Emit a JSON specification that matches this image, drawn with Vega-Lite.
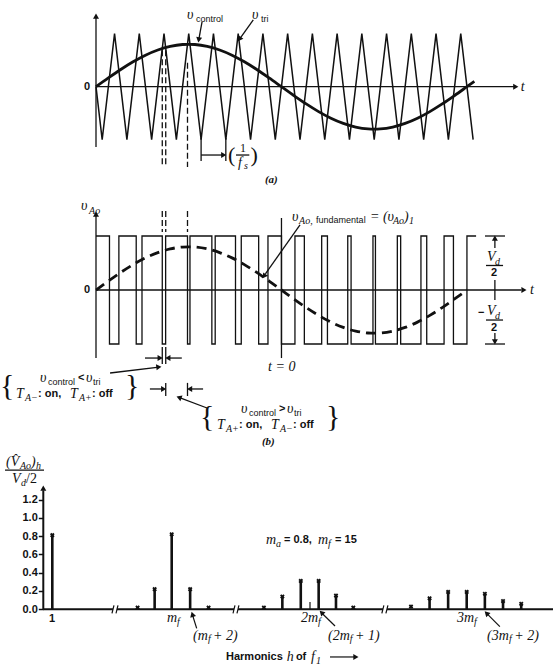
{
  "$schema": "https://vega.github.io/schema/vega-lite/v6.json",
  "background": "white",
  "padding": 0,
  "spacing": 0,
  "config": {"view": {"stroke": null}},
  "datasets": {
    "tri": [
      {"x": 0, "y": 0}, {"x": 0.25, "y": -1}, {"x": 0.75, "y": 1}, {"x": 1.25, "y": -1}, {"x": 1.75, "y": 1},
      {"x": 2.25, "y": -1}, {"x": 2.75, "y": 1}, {"x": 3.25, "y": -1}, {"x": 3.75, "y": 1}, {"x": 4.25, "y": -1},
      {"x": 4.75, "y": 1}, {"x": 5.25, "y": -1}, {"x": 5.75, "y": 1}, {"x": 6.25, "y": -1}, {"x": 6.75, "y": 1},
      {"x": 7.25, "y": -1}, {"x": 7.75, "y": 1}, {"x": 8.25, "y": -1}, {"x": 8.75, "y": 1}, {"x": 9.25, "y": -1},
      {"x": 9.75, "y": 1}, {"x": 10.25, "y": -1}, {"x": 10.75, "y": 1}, {"x": 11.25, "y": -1}, {"x": 11.75, "y": 1},
      {"x": 12.25, "y": -1}, {"x": 12.75, "y": 1}, {"x": 13.25, "y": -1}, {"x": 13.75, "y": 1}, {"x": 14.25, "y": -1},
      {"x": 14.75, "y": 1}, {"x": 15.25, "y": -1}
    ],
    "ctrl": [
      {"x": 0, "y": 0}, {"x": 0.5, "y": 0.166}, {"x": 1, "y": 0.325}, {"x": 1.5, "y": 0.47}, {"x": 2, "y": 0.595},
      {"x": 2.5, "y": 0.693}, {"x": 3, "y": 0.761}, {"x": 3.5, "y": 0.796}, {"x": 3.75, "y": 0.8}, {"x": 4, "y": 0.796},
      {"x": 4.5, "y": 0.761}, {"x": 5, "y": 0.693}, {"x": 5.5, "y": 0.595}, {"x": 6, "y": 0.47}, {"x": 6.5, "y": 0.325},
      {"x": 7, "y": 0.166}, {"x": 7.5, "y": 0}, {"x": 8, "y": -0.166}, {"x": 8.5, "y": -0.325}, {"x": 9, "y": -0.47},
      {"x": 9.5, "y": -0.595}, {"x": 10, "y": -0.693}, {"x": 10.5, "y": -0.761}, {"x": 11, "y": -0.796}, {"x": 11.25, "y": -0.8},
      {"x": 11.5, "y": -0.796}, {"x": 12, "y": -0.761}, {"x": 12.5, "y": -0.693}, {"x": 13, "y": -0.595}, {"x": 13.5, "y": -0.47},
      {"x": 14, "y": -0.325}, {"x": 14.5, "y": -0.166}, {"x": 15, "y": 0}, {"x": 15.3, "y": 0.1}
    ],
    "pwm": [
      {"x": 0, "y": 1}, {"x": 0.545, "y": -1}, {"x": 0.925, "y": 1}, {"x": 1.626, "y": -1}, {"x": 1.86, "y": 1},
      {"x": 2.68, "y": -1}, {"x": 2.816, "y": 1}, {"x": 3.7, "y": -1}, {"x": 3.8, "y": 1}, {"x": 4.685, "y": -1},
      {"x": 4.82, "y": 1}, {"x": 5.641, "y": -1}, {"x": 5.874, "y": 1}, {"x": 6.578, "y": -1}, {"x": 6.954, "y": 1},
      {"x": 7.5, "y": -1}, {"x": 8.045, "y": 1}, {"x": 8.425, "y": -1}, {"x": 9.126, "y": 1}, {"x": 9.359, "y": -1},
      {"x": 10.18, "y": 1}, {"x": 10.315, "y": -1}, {"x": 11.2, "y": 1}, {"x": 11.3, "y": -1}, {"x": 12.185, "y": 1},
      {"x": 12.32, "y": -1}, {"x": 13.14, "y": 1}, {"x": 13.374, "y": -1}, {"x": 14.075, "y": 1}, {"x": 14.454, "y": -1},
      {"x": 15.0, "y": 1}, {"x": 15.37, "y": 1}
    ],
    "harm": [
      {"x": 1, "y": 0.81, "k": "stem"}, {"x": 11, "y": 0.02, "k": "dot"}, {"x": 13, "y": 0.22, "k": "stem"},
      {"x": 15, "y": 0.82, "k": "stem"}, {"x": 17, "y": 0.22, "k": "stem"}, {"x": 19, "y": 0.02, "k": "dot"},
      {"x": 25, "y": 0.02, "k": "dot"}, {"x": 27, "y": 0.14, "k": "stem"}, {"x": 29, "y": 0.31, "k": "stem"},
      {"x": 30, "y": 0.08, "k": "tick"}, {"x": 31, "y": 0.31, "k": "stem"}, {"x": 33, "y": 0.15, "k": "stem"},
      {"x": 35, "y": 0.02, "k": "dot"}, {"x": 39, "y": 0.03, "k": "dot"}, {"x": 41, "y": 0.12, "k": "stem"},
      {"x": 43, "y": 0.19, "k": "stem"}, {"x": 45, "y": 0.19, "k": "stem"}, {"x": 47, "y": 0.17, "k": "stem"},
      {"x": 49, "y": 0.09, "k": "stem"}, {"x": 51, "y": 0.06, "k": "stem"}
    ],
    "seg": [
      {"p": "A", "k": "line", "x": 0, "y": 0, "x2": 16.9, "y2": 0},
      {"p": "A", "k": "line", "x": 0, "y": -1.138, "x2": 0, "y2": 1.33},
      {"p": "A", "k": "line", "x": 4.29, "y": 1.226, "x2": 4.16, "y2": 0.9},
      {"p": "A", "k": "line", "x": 6.36, "y": 1.26, "x2": 5.84, "y2": 0.92},
      {"p": "A", "k": "line", "x": 4.25, "y": -0.97, "x2": 4.25, "y2": -1.4},
      {"p": "A", "k": "line", "x": 5.25, "y": -0.97, "x2": 5.25, "y2": -1.4},
      {"p": "A", "k": "line", "x": 4.25, "y": -1.289, "x2": 5.15, "y2": -1.289},
      {"p": "A", "k": "line", "x": 5.66, "y": -1.289, "x2": 6.2, "y2": -1.289},
      {"p": "A", "k": "dash", "x": 2.68, "y": 0.69, "x2": 2.68, "y2": -1.515},
      {"p": "A", "k": "dash", "x": 2.82, "y": 0.69, "x2": 2.82, "y2": -1.515},
      {"p": "A", "k": "dash", "x": 3.7, "y": 0.45, "x2": 3.7, "y2": -1.515},
      {"p": "B", "k": "line", "x": 0, "y": 0, "x2": 17.2, "y2": 0},
      {"p": "B", "k": "line", "x": 0, "y": -1.26, "x2": 0, "y2": 1.4},
      {"p": "B", "k": "line", "x": 7.5, "y": 1.333, "x2": 7.5, "y2": -1.26},
      {"p": "B", "k": "line", "x": 15.73, "y": 1.0, "x2": 16.54, "y2": 1.0},
      {"p": "B", "k": "line", "x": 15.73, "y": -1.0, "x2": 16.54, "y2": -1.0},
      {"p": "B", "k": "line", "x": 16.13, "y": 0.95, "x2": 16.13, "y2": 0.778},
      {"p": "B", "k": "line", "x": 16.13, "y": 0.185, "x2": 16.13, "y2": -0.185},
      {"p": "B", "k": "line", "x": 16.13, "y": -0.796, "x2": 16.13, "y2": -0.95},
      {"p": "B", "k": "line", "x": 15.77, "y": 0.454, "x2": 16.46, "y2": 0.454},
      {"p": "B", "k": "line", "x": 15.77, "y": -0.556, "x2": 16.46, "y2": -0.556},
      {"p": "B", "k": "line", "x": 8.25, "y": 1.204, "x2": 6.85, "y2": 0.3},
      {"p": "B", "k": "line", "x": 2.68, "y": -1.056, "x2": 2.68, "y2": -1.37},
      {"p": "B", "k": "line", "x": 2.82, "y": -1.056, "x2": 2.82, "y2": -1.37},
      {"p": "B", "k": "line", "x": 2.82, "y": -1.72, "x2": 2.82, "y2": -1.963},
      {"p": "B", "k": "line", "x": 3.7, "y": -1.72, "x2": 3.7, "y2": -1.963},
      {"p": "B", "k": "line", "x": 1.98, "y": -1.26, "x2": 2.6, "y2": -1.26},
      {"p": "B", "k": "line", "x": 3.47, "y": -1.26, "x2": 2.9, "y2": -1.26},
      {"p": "B", "k": "line", "x": 2.18, "y": -1.833, "x2": 2.74, "y2": -1.833},
      {"p": "B", "k": "line", "x": 4.33, "y": -1.833, "x2": 3.78, "y2": -1.833},
      {"p": "B", "k": "line", "x": 0.57, "y": -1.537, "x2": 2.55, "y2": -1.43},
      {"p": "B", "k": "line", "x": 4.49, "y": -2.185, "x2": 3.35, "y2": -1.99},
      {"p": "B", "k": "dash", "x": 2.68, "y": 1.463, "x2": 2.68, "y2": 1.074},
      {"p": "B", "k": "dash", "x": 2.82, "y": 1.463, "x2": 2.82, "y2": 1.074},
      {"p": "B", "k": "dash", "x": 3.7, "y": 1.463, "x2": 3.7, "y2": 1.074},
      {"p": "C", "k": "base", "x": -0.06, "y": 0, "x2": 8.11, "y2": 0},
      {"p": "C", "k": "base", "x": 8.58, "y": 0, "x2": 21.76, "y2": 0},
      {"p": "C", "k": "base", "x": 22.19, "y": 0, "x2": 37.06, "y2": 0},
      {"p": "C", "k": "base", "x": 37.34, "y": 0, "x2": 54.5, "y2": 0},
      {"p": "C", "k": "base", "x": -0.055, "y": 0, "x2": -0.055, "y2": 1.3},
      {"p": "C", "k": "line", "x": 8.0, "y": -0.044, "x2": 8.23, "y2": 0.044},
      {"p": "C", "k": "line", "x": 8.47, "y": -0.044, "x2": 8.7, "y2": 0.044},
      {"p": "C", "k": "line", "x": 21.65, "y": -0.044, "x2": 21.86, "y2": 0.044},
      {"p": "C", "k": "line", "x": 22.08, "y": -0.044, "x2": 22.29, "y2": 0.044},
      {"p": "C", "k": "line", "x": 36.98, "y": -0.044, "x2": 37.12, "y2": 0.044},
      {"p": "C", "k": "line", "x": 37.26, "y": -0.044, "x2": 37.4, "y2": 0.044},
      {"p": "C", "k": "line", "x": -4.54, "y": 1.522, "x2": 0.03, "y2": 1.522},
      {"p": "C", "k": "line", "x": 17.71, "y": -0.208, "x2": 17.25, "y2": -0.06},
      {"p": "C", "k": "line", "x": 32.89, "y": -0.183, "x2": 31.35, "y2": -0.04},
      {"p": "C", "k": "line", "x": 48.65, "y": -0.19, "x2": 47.2, "y2": -0.045},
      {"p": "C", "k": "line", "x": 32.31, "y": -0.521, "x2": 35.05, "y2": -0.521}
    ],
    "head": [
      {"p": "A", "x": 16.94, "y": 0, "ang": 90},
      {"p": "A", "x": 0, "y": 1.315, "ang": 0},
      {"p": "A", "x": 4.16, "y": 0.9, "ang": 190},
      {"p": "A", "x": 5.82, "y": 0.91, "ang": 215},
      {"p": "A", "x": 5.13, "y": -1.289, "ang": 90},
      {"p": "B", "x": 17.27, "y": 0, "ang": 90},
      {"p": "B", "x": 0, "y": 1.39, "ang": 0},
      {"p": "B", "x": 16.13, "y": 0.944, "ang": 0},
      {"p": "B", "x": 16.13, "y": -0.944, "ang": 180},
      {"p": "B", "x": 6.82, "y": 0.268, "ang": 215},
      {"p": "B", "x": 2.56, "y": -1.26, "ang": 90},
      {"p": "B", "x": 2.94, "y": -1.26, "ang": 270},
      {"p": "B", "x": 2.7, "y": -1.833, "ang": 90},
      {"p": "B", "x": 3.82, "y": -1.833, "ang": 270},
      {"p": "B", "x": 2.507, "y": -1.428, "ang": 83},
      {"p": "B", "x": 3.389, "y": -1.996, "ang": 291},
      {"p": "C", "x": -0.055, "y": 1.315, "ang": 0},
      {"p": "C", "x": 17.27, "y": -0.064, "ang": 343},
      {"p": "C", "x": 31.4, "y": -0.042, "ang": 315},
      {"p": "C", "x": 47.25, "y": -0.049, "ang": 315},
      {"p": "C", "x": 35.12, "y": -0.521, "ang": 90}
    ],
    "txt": [
      {"p": "A", "k": "s", "x": -0.485, "y": 0, "s": "0"},
      {"p": "A", "k": "m", "x": 17.18, "y": 0, "s": "t"},
      {"p": "A", "k": "m", "x": 3.68, "y": 1.353, "s": "υ"},
      {"p": "A", "k": "ss", "x": 4.04, "y": 1.277, "s": "control"},
      {"p": "A", "k": "m", "x": 6.31, "y": 1.353, "s": "υ"},
      {"p": "A", "k": "ss", "x": 6.67, "y": 1.277, "s": "tri"},
      {"p": "A", "k": "cap", "x": 6.83, "y": -1.76, "s": "(a)"},
      {"p": "A", "k": "bp", "x": 5.34, "y": -1.29, "s": "("},
      {"p": "A", "k": "r", "x": 5.82, "y": -1.157, "s": "1"},
      {"p": "A", "k": "m", "x": 5.74, "y": -1.44, "s": "f"},
      {"p": "A", "k": "ms", "x": 5.98, "y": -1.5, "s": "s"},
      {"p": "A", "k": "bp", "x": 6.25, "y": -1.29, "s": ")"},
      {"p": "B", "k": "m", "x": -0.61, "y": 1.556, "s": "υ"},
      {"p": "B", "k": "ms", "x": -0.28, "y": 1.463, "s": "Ao"},
      {"p": "B", "k": "s", "x": -0.485, "y": 0, "s": "0"},
      {"p": "B", "k": "m", "x": 17.55, "y": 0, "s": "t"},
      {"p": "B", "k": "m", "x": 6.96, "y": -1.426, "s": "t = 0"},
      {"p": "B", "k": "m", "x": 7.93, "y": 1.352, "s": "υ"},
      {"p": "B", "k": "ms", "x": 8.21, "y": 1.278, "s": "Ao,"},
      {"p": "B", "k": "ss", "x": 8.9, "y": 1.296, "s": "fundamental"},
      {"p": "B", "k": "m", "x": 11.08, "y": 1.352, "s": "= (υ"},
      {"p": "B", "k": "ms", "x": 12.01, "y": 1.278, "s": "Ao"},
      {"p": "B", "k": "m", "x": 12.45, "y": 1.352, "s": ")"},
      {"p": "B", "k": "ms", "x": 12.66, "y": 1.278, "s": "1"},
      {"p": "B", "k": "m", "x": 15.81, "y": 0.611, "s": "V"},
      {"p": "B", "k": "ms", "x": 16.13, "y": 0.519, "s": "d"},
      {"p": "B", "k": "s", "x": 15.97, "y": 0.315, "s": "2"},
      {"p": "B", "k": "s", "x": 15.45, "y": -0.426, "s": "−"},
      {"p": "B", "k": "m", "x": 15.81, "y": -0.389, "s": "V"},
      {"p": "B", "k": "ms", "x": 16.13, "y": -0.481, "s": "d"},
      {"p": "B", "k": "s", "x": 15.97, "y": -0.704, "s": "2"},
      {"p": "B", "k": "br", "x": -3.882, "y": -1.778, "s": "{"},
      {"p": "B", "k": "m", "x": -2.265, "y": -1.63, "s": "υ"},
      {"p": "B", "k": "ss", "x": -1.942, "y": -1.704, "s": "control"},
      {"p": "B", "k": "s", "x": -0.729, "y": -1.63, "s": "<"},
      {"p": "B", "k": "m", "x": -0.406, "y": -1.63, "s": "υ"},
      {"p": "B", "k": "ss", "x": -0.122, "y": -1.704, "s": "tri"},
      {"p": "B", "k": "m", "x": -3.235, "y": -1.926, "s": "T"},
      {"p": "B", "k": "ms", "x": -2.871, "y": -2.0, "s": "A−"},
      {"p": "B", "k": "s", "x": -2.346, "y": -1.926, "s": ": on,"},
      {"p": "B", "k": "m", "x": -1.052, "y": -1.926, "s": "T"},
      {"p": "B", "k": "ms", "x": -0.688, "y": -2.0, "s": "A+"},
      {"p": "B", "k": "s", "x": -0.162, "y": -1.926, "s": ": off"},
      {"p": "B", "k": "br", "x": 1.172, "y": -1.778, "s": "}"},
      {"p": "B", "k": "br", "x": 4.206, "y": -2.352, "s": "{"},
      {"p": "B", "k": "m", "x": 5.863, "y": -2.204, "s": "υ"},
      {"p": "B", "k": "ss", "x": 6.186, "y": -2.278, "s": "control"},
      {"p": "B", "k": "s", "x": 7.399, "y": -2.204, "s": ">"},
      {"p": "B", "k": "m", "x": 7.722, "y": -2.204, "s": "υ"},
      {"p": "B", "k": "ss", "x": 8.006, "y": -2.278, "s": "tri"},
      {"p": "B", "k": "m", "x": 4.893, "y": -2.5, "s": "T"},
      {"p": "B", "k": "ms", "x": 5.257, "y": -2.574, "s": "A+"},
      {"p": "B", "k": "s", "x": 5.782, "y": -2.5, "s": ": on,"},
      {"p": "B", "k": "m", "x": 7.076, "y": -2.5, "s": "T"},
      {"p": "B", "k": "ms", "x": 7.44, "y": -2.574, "s": "A−"},
      {"p": "B", "k": "s", "x": 7.966, "y": -2.5, "s": ": off"},
      {"p": "B", "k": "br", "x": 9.3, "y": -2.352, "s": "}"},
      {"p": "B", "k": "cap", "x": 6.71, "y": -2.815, "s": "(b)"},
      {"p": "C", "k": "s", "x": 0.613, "y": -0.106, "s": "1"},
      {"p": "C", "k": "m", "x": 14.45, "y": -0.095, "s": "m"},
      {"p": "C", "k": "ms", "x": 15.57, "y": -0.139, "s": "f"},
      {"p": "C", "k": "m", "x": 29.02, "y": -0.095, "s": "2m"},
      {"p": "C", "k": "ms", "x": 30.92, "y": -0.139, "s": "f"},
      {"p": "C", "k": "m", "x": 43.96, "y": -0.095, "s": "3m"},
      {"p": "C", "k": "ms", "x": 45.8, "y": -0.139, "s": "f"},
      {"p": "C", "k": "m", "x": 17.31, "y": -0.291, "s": "(m"},
      {"p": "C", "k": "ms", "x": 18.94, "y": -0.33, "s": "f"},
      {"p": "C", "k": "m", "x": 19.48, "y": -0.291, "s": "+ 2)"},
      {"p": "C", "k": "m", "x": 32.08, "y": -0.291, "s": "(2m"},
      {"p": "C", "k": "ms", "x": 34.6, "y": -0.33, "s": "f"},
      {"p": "C", "k": "m", "x": 35.12, "y": -0.291, "s": "+ 1)"},
      {"p": "C", "k": "m", "x": 47.24, "y": -0.291, "s": "(3m"},
      {"p": "C", "k": "ms", "x": 49.67, "y": -0.33, "s": "f"},
      {"p": "C", "k": "m", "x": 50.23, "y": -0.291, "s": "+ 2)"},
      {"p": "C", "k": "m", "x": 25.23, "y": 0.757, "s": "m"},
      {"p": "C", "k": "ms", "x": 26.31, "y": 0.713, "s": "a"},
      {"p": "C", "k": "s", "x": 27.18, "y": 0.757, "s": "= 0.8,"},
      {"p": "C", "k": "m", "x": 30.92, "y": 0.757, "s": "m"},
      {"p": "C", "k": "ms", "x": 32.08, "y": 0.713, "s": "f"},
      {"p": "C", "k": "s", "x": 32.89, "y": 0.757, "s": "= 15"},
      {"p": "C", "k": "s", "x": 20.89, "y": -0.521, "s": "Harmonics"},
      {"p": "C", "k": "m", "x": 27.49, "y": -0.521, "s": "h"},
      {"p": "C", "k": "s", "x": 28.47, "y": -0.521, "s": "of"},
      {"p": "C", "k": "m", "x": 30.12, "y": -0.521, "s": "f"},
      {"p": "C", "k": "ms", "x": 30.69, "y": -0.56, "s": "1"},
      {"p": "C", "k": "m", "x": -4.43, "y": 1.61, "s": "(V̂"},
      {"p": "C", "k": "ms", "x": -2.785, "y": 1.566, "s": "Ao"},
      {"p": "C", "k": "m", "x": -1.496, "y": 1.61, "s": ")"},
      {"p": "C", "k": "ms", "x": -0.91, "y": 1.566, "s": "h"},
      {"p": "C", "k": "m", "x": -3.72, "y": 1.424, "s": "V"},
      {"p": "C", "k": "ms", "x": -2.67, "y": 1.38, "s": "d"},
      {"p": "C", "k": "r", "x": -2.08, "y": 1.424, "s": "/2"}
    ]
  },
  "vconcat": [
    {
      "width": 553,
      "height": 190,
      "encoding": {
        "x": {"field": "x", "type": "quantitative", "scale": {"domain": [-3.882, 18.48], "nice": false, "zero": false}, "axis": null},
        "y": {"field": "y", "type": "quantitative", "scale": {"domain": [-1.949, 1.636], "nice": false, "zero": false}, "axis": null}
      },
      "layer": [
        {"data": {"name": "tri"}, "mark": {"type": "line", "color": "#111", "strokeWidth": 1.5}},
        {"data": {"name": "ctrl"}, "mark": {"type": "line", "color": "#111", "strokeWidth": 2.8, "interpolate": "monotone"}},
        {"data": {"name": "seg"}, "transform": [{"filter": "datum.p == 'A' && datum.k == 'line'"}], "mark": {"type": "rule", "color": "#111", "strokeWidth": 1.3}, "encoding": {"x2": {"field": "x2"}, "y2": {"field": "y2"}}},
        {"data": {"name": "seg"}, "transform": [{"filter": "datum.p == 'A' && datum.k == 'dash'"}], "mark": {"type": "rule", "color": "#111", "strokeWidth": 1.3, "strokeDash": [6, 3]}, "encoding": {"x2": {"field": "x2"}, "y2": {"field": "y2"}}},
        {"data": {"name": "head"}, "transform": [{"filter": "datum.p == 'A'"}], "mark": {"type": "point", "shape": "triangle", "filled": true, "color": "#111", "size": 36, "opacity": 1}, "encoding": {"angle": {"field": "ang", "type": "quantitative", "scale": null}}},
        {"data": {"name": "txt"}, "transform": [{"filter": "datum.p == 'A' && datum.k == 'm'"}], "mark": {"type": "text", "align": "left", "baseline": "middle", "font": "Liberation Serif", "fontStyle": "italic", "fontSize": 14, "color": "#111"}, "encoding": {"text": {"field": "s"}}},
        {"data": {"name": "txt"}, "transform": [{"filter": "datum.p == 'A' && datum.k == 'ms'"}], "mark": {"type": "text", "align": "left", "baseline": "middle", "font": "Liberation Serif", "fontStyle": "italic", "fontSize": 10, "color": "#111"}, "encoding": {"text": {"field": "s"}}},
        {"data": {"name": "txt"}, "transform": [{"filter": "datum.p == 'A' && datum.k == 's'"}], "mark": {"type": "text", "align": "left", "baseline": "middle", "font": "Liberation Sans", "fontWeight": "bold", "fontSize": 11, "color": "#111"}, "encoding": {"text": {"field": "s"}}},
        {"data": {"name": "txt"}, "transform": [{"filter": "datum.p == 'A' && datum.k == 'ss'"}], "mark": {"type": "text", "align": "left", "baseline": "middle", "font": "Liberation Sans", "fontSize": 9, "color": "#111"}, "encoding": {"text": {"field": "s"}}},
        {"data": {"name": "txt"}, "transform": [{"filter": "datum.p == 'A' && datum.k == 'cap'"}], "mark": {"type": "text", "align": "left", "baseline": "middle", "font": "Liberation Serif", "fontStyle": "italic", "fontWeight": "bold", "fontSize": 11, "color": "#111"}, "encoding": {"text": {"field": "s"}}},
        {"data": {"name": "txt"}, "transform": [{"filter": "datum.p == 'A' && datum.k == 'bp'"}], "mark": {"type": "text", "align": "left", "baseline": "middle", "font": "Liberation Serif", "fontSize": 22, "color": "#111"}, "encoding": {"text": {"field": "s"}}},
        {"data": {"name": "txt"}, "transform": [{"filter": "datum.p == 'A' && datum.k == 'r'"}], "mark": {"type": "text", "align": "left", "baseline": "middle", "font": "Liberation Serif", "fontSize": 12, "color": "#111"}, "encoding": {"text": {"field": "s"}}}
      ]
    },
    {
      "width": 553,
      "height": 260,
      "encoding": {
        "x": {"field": "x", "type": "quantitative", "scale": {"domain": [-3.882, 18.48], "nice": false, "zero": false}, "axis": null},
        "y": {"field": "y", "type": "quantitative", "scale": {"domain": [-2.963, 1.852], "nice": false, "zero": false}, "axis": null}
      },
      "layer": [
        {"data": {"name": "pwm"}, "mark": {"type": "line", "color": "#111", "strokeWidth": 1.3, "interpolate": "step-after"}},
        {"data": {"name": "ctrl"}, "transform": [{"filter": "datum.x <= 15"}], "mark": {"type": "line", "color": "#111", "strokeWidth": 2.8, "interpolate": "monotone", "strokeDash": [10, 6]}},
        {"data": {"name": "seg"}, "transform": [{"filter": "datum.p == 'B' && datum.k == 'line'"}], "mark": {"type": "rule", "color": "#111", "strokeWidth": 1.3}, "encoding": {"x2": {"field": "x2"}, "y2": {"field": "y2"}}},
        {"data": {"name": "seg"}, "transform": [{"filter": "datum.p == 'B' && datum.k == 'dash'"}], "mark": {"type": "rule", "color": "#111", "strokeWidth": 1.3, "strokeDash": [6, 3]}, "encoding": {"x2": {"field": "x2"}, "y2": {"field": "y2"}}},
        {"data": {"name": "head"}, "transform": [{"filter": "datum.p == 'B'"}], "mark": {"type": "point", "shape": "triangle", "filled": true, "color": "#111", "size": 36, "opacity": 1}, "encoding": {"angle": {"field": "ang", "type": "quantitative", "scale": null}}},
        {"data": {"name": "txt"}, "transform": [{"filter": "datum.p == 'B' && datum.k == 'm'"}], "mark": {"type": "text", "align": "left", "baseline": "middle", "font": "Liberation Serif", "fontStyle": "italic", "fontSize": 14, "color": "#111"}, "encoding": {"text": {"field": "s"}}},
        {"data": {"name": "txt"}, "transform": [{"filter": "datum.p == 'B' && datum.k == 'ms'"}], "mark": {"type": "text", "align": "left", "baseline": "middle", "font": "Liberation Serif", "fontStyle": "italic", "fontSize": 10, "color": "#111"}, "encoding": {"text": {"field": "s"}}},
        {"data": {"name": "txt"}, "transform": [{"filter": "datum.p == 'B' && datum.k == 's'"}], "mark": {"type": "text", "align": "left", "baseline": "middle", "font": "Liberation Sans", "fontWeight": "bold", "fontSize": 11, "color": "#111"}, "encoding": {"text": {"field": "s"}}},
        {"data": {"name": "txt"}, "transform": [{"filter": "datum.p == 'B' && datum.k == 'ss'"}], "mark": {"type": "text", "align": "left", "baseline": "middle", "font": "Liberation Sans", "fontSize": 9, "color": "#111"}, "encoding": {"text": {"field": "s"}}},
        {"data": {"name": "txt"}, "transform": [{"filter": "datum.p == 'B' && datum.k == 'cap'"}], "mark": {"type": "text", "align": "left", "baseline": "middle", "font": "Liberation Serif", "fontStyle": "italic", "fontWeight": "bold", "fontSize": 11, "color": "#111"}, "encoding": {"text": {"field": "s"}}},
        {"data": {"name": "txt"}, "transform": [{"filter": "datum.p == 'B' && datum.k == 'br'"}], "mark": {"type": "text", "align": "left", "baseline": "middle", "font": "Liberation Serif", "fontSize": 30, "color": "#111"}, "encoding": {"text": {"field": "s"}}}
      ]
    },
    {
      "width": 553,
      "height": 220,
      "encoding": {
        "x": {"field": "x", "type": "quantitative", "scale": {"domain": [-5, 1, 15, 30, 35, 39, 45, 54.5], "range": [1.1, 52.3, 171.7, 310, 353.3, 411, 466.7, 553], "nice": false, "zero": false}, "axis": null},
        "y": {"field": "y", "type": "quantitative", "scale": {"domain": [-0.6634, 1.741], "nice": false, "zero": false},
          "axis": {"values": [0, 0.2, 0.4, 0.6, 0.8, 1, 1.2], "format": ".1f", "domain": false, "grid": false, "title": null, "offset": -43.3, "tickSize": 5, "tickWidth": 1.5, "tickColor": "#111", "labelColor": "#111", "labelFont": "Liberation Sans", "labelFontWeight": "bold", "labelFontSize": 11, "labelPadding": 1}}
      },
      "layer": [
        {"data": {"name": "seg"}, "transform": [{"filter": "datum.p == 'C' && datum.k == 'base'"}], "mark": {"type": "rule", "color": "#111", "strokeWidth": 2}, "encoding": {"x2": {"field": "x2"}, "y2": {"field": "y2"}}},
        {"data": {"name": "seg"}, "transform": [{"filter": "datum.p == 'C' && datum.k == 'line'"}], "mark": {"type": "rule", "color": "#111", "strokeWidth": 1.2}, "encoding": {"x2": {"field": "x2"}, "y2": {"field": "y2"}}},
        {"data": {"name": "harm"}, "transform": [{"filter": "datum.k == 'stem'"}], "mark": {"type": "rule", "color": "#111", "strokeWidth": 2.6}, "encoding": {"y2": {"datum": 0}}},
        {"data": {"name": "harm"}, "transform": [{"filter": "datum.k == 'tick'"}], "mark": {"type": "rule", "color": "#111", "strokeWidth": 1.2}, "encoding": {"y2": {"datum": 0}}},
        {"data": {"name": "harm"}, "transform": [{"filter": "datum.k != 'tick'"}], "mark": {"type": "point", "shape": "cross", "angle": 45, "filled": true, "color": "#111", "size": 22, "opacity": 1}},
        {"data": {"name": "head"}, "transform": [{"filter": "datum.p == 'C'"}], "mark": {"type": "point", "shape": "triangle", "filled": true, "color": "#111", "size": 36, "opacity": 1}, "encoding": {"angle": {"field": "ang", "type": "quantitative", "scale": null}}},
        {"data": {"name": "txt"}, "transform": [{"filter": "datum.p == 'C' && datum.k == 'm'"}], "mark": {"type": "text", "align": "left", "baseline": "middle", "font": "Liberation Serif", "fontStyle": "italic", "fontSize": 14, "color": "#111"}, "encoding": {"text": {"field": "s"}}},
        {"data": {"name": "txt"}, "transform": [{"filter": "datum.p == 'C' && datum.k == 'ms'"}], "mark": {"type": "text", "align": "left", "baseline": "middle", "font": "Liberation Serif", "fontStyle": "italic", "fontSize": 10, "color": "#111"}, "encoding": {"text": {"field": "s"}}},
        {"data": {"name": "txt"}, "transform": [{"filter": "datum.p == 'C' && datum.k == 's'"}], "mark": {"type": "text", "align": "left", "baseline": "middle", "font": "Liberation Sans", "fontWeight": "bold", "fontSize": 11, "color": "#111"}, "encoding": {"text": {"field": "s"}}},
        {"data": {"name": "txt"}, "transform": [{"filter": "datum.p == 'C' && datum.k == 'r'"}], "mark": {"type": "text", "align": "left", "baseline": "middle", "font": "Liberation Serif", "fontSize": 14, "color": "#111"}, "encoding": {"text": {"field": "s"}}}
      ]
    }
  ]
}
